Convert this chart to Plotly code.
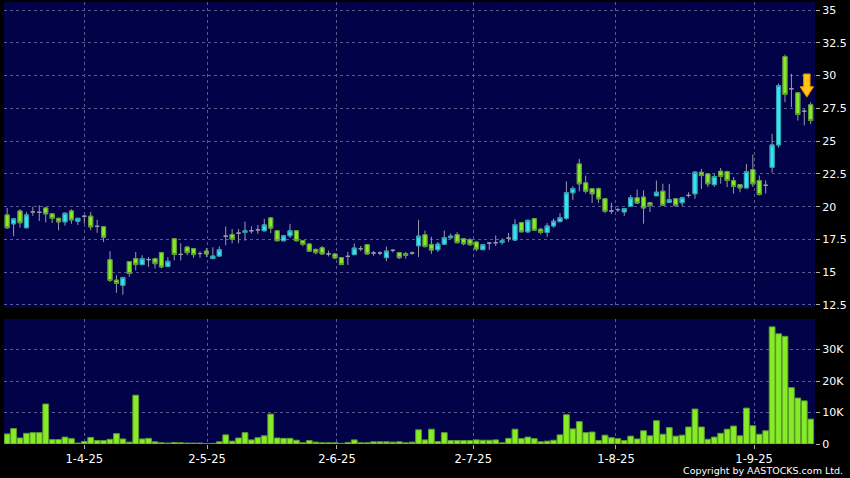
import plotly.graph_objects as go

# ---- data ----
opens = [19.37, 18.69, 19.67, 18.39, 19.6, 19.57, 19.9, 19.45, 19.11, 18.84,
         19.67, 18.89, 19.27, 19.27, 18.5, 18.46, 15.96, 14.39, 14.0, 15.81,
         16.04, 15.58, 15.96, 16.04, 16.49, 15.43, 17.55, 16.36, 16.92, 16.8,
         16.42, 16.61, 16.04, 16.23, 17.75, 17.88, 17.98, 18.03, 18.16, 18.23,
         18.16, 19.14, 18.16, 17.4, 17.78, 18.16, 17.42, 17.15, 16.74, 16.87,
         16.39, 16.39, 16.11, 16.21, 16.34, 16.79, 17.1, 16.46, 16.46, 16.11,
         16.67, 16.49, 16.42, 16.46, 17.02, 17.86, 17.12, 16.72, 17.14, 17.63,
         17.86, 17.55, 17.48, 17.3, 16.72, 17.22, 17.25, 17.27, 17.6, 17.45,
         18.79, 18.08, 19.09, 18.28, 18.03, 18.53, 18.86, 19.11, 21.06, 23.26,
         21.82, 21.36, 21.36, 20.6, 19.67, 19.77, 19.6, 20.02, 20.68, 20.73,
         20.3, 20.83, 21.18, 20.33, 20.6, 20.3, 20.86, 20.98, 22.62, 22.5,
         21.68, 22.7, 22.68, 21.99, 21.68, 21.43, 22.83, 21.99, 21.63, 23.0,
         24.71, 31.45, 28.99, 28.68, 27.28, 27.77]
highs = [19.9, 19.1, 19.8, 19.6, 20.0, 20.1, 19.95, 19.5, 19.15, 19.55,
         19.8, 19.15, 19.35, 19.6, 19.0, 18.5, 16.6, 14.77, 14.65, 15.85,
         16.54, 16.3, 16.16, 16.1, 16.55, 16.15, 17.6, 17.2, 16.95, 16.85,
         16.6, 16.84, 16.9, 16.97, 18.48, 18.3, 18.3, 18.86, 18.5, 18.6,
         19.07, 19.2, 18.2, 17.85, 18.69, 18.2, 17.45, 17.2, 16.8, 17.0,
         16.65, 16.42, 16.15, 16.55, 17.2, 17.0, 17.15, 16.62, 16.6, 16.95,
         16.75, 16.55, 16.55, 16.58, 19.0, 18.18, 17.7, 17.3, 18.18, 17.95,
         18.05, 17.6, 17.6, 17.35, 17.15, 17.3, 17.8, 17.6, 18.0, 19.04,
         18.85, 19.0, 19.15, 18.38, 18.75, 19.09, 19.5, 21.92, 21.55, 23.64,
         22.37, 21.4, 21.45, 20.65, 20.3, 19.9, 19.9, 20.9, 21.3, 21.25,
         20.35, 21.99, 21.74, 21.74, 20.65, 20.75, 21.1, 22.7, 22.88, 22.55,
         22.5, 22.95, 22.75, 22.25, 21.7, 23.26, 23.97, 22.37, 22.0, 25.55,
         29.4, 31.6, 30.13, 28.75, 27.45, 27.97]
lows = [18.3, 17.75, 18.4, 18.35, 19.3, 18.9, 18.8, 18.75, 18.2, 18.55,
        18.7, 18.6, 18.7, 18.2, 18.0, 17.3, 14.25, 13.43, 13.28, 14.65,
        15.15, 15.55, 15.4, 15.28, 15.3, 15.4, 15.9, 15.9, 16.3, 16.1,
        16.1, 16.16, 16.0, 16.2, 17.05, 17.2, 17.2, 17.4, 17.95, 17.93,
        18.1, 17.98, 17.35, 17.35, 17.6, 17.35, 16.97, 16.55, 16.35, 16.35,
        16.2, 16.0, 15.55, 15.55, 16.3, 16.6, 16.35, 16.25, 16.3, 15.84,
        16.5, 16.0, 16.04, 16.33, 16.16, 16.9, 16.4, 16.55, 17.1, 17.55,
        17.2, 17.05, 17.0, 16.6, 16.7, 16.7, 17.0, 17.1, 17.3, 17.4,
        18.05, 18.0, 18.15, 17.88, 17.7, 18.4, 18.8, 19.0, 20.5, 21.16,
        21.0, 20.27, 20.27, 19.5, 19.45, 19.6, 19.3, 20.0, 20.2, 18.7,
        19.6, 20.8, 20.05, 20.3, 20.0, 20.05, 20.7, 20.6, 21.35, 21.5,
        21.5, 21.75, 21.5, 21.0, 21.1, 21.4, 21.5, 20.85, 21.0, 22.6,
        24.5, 27.97, 27.58, 26.57, 26.19, 26.3]
closes = [18.39, 19.07, 18.77, 19.37, 19.6, 19.57, 19.45, 19.1, 18.84, 19.5,
          18.99, 19.11, 19.27, 18.46, 18.5, 17.67, 14.37, 14.14, 14.6, 14.9,
          15.58, 16.04, 15.96, 15.65, 15.4, 15.83, 16.36, 16.36, 16.49, 16.34,
          16.42, 16.39, 16.23, 16.72, 17.75, 17.52, 17.98, 18.16, 18.16, 18.23,
          18.61, 18.36, 17.4, 17.78, 18.16, 17.4, 17.12, 16.6, 16.49, 16.39,
          16.39, 16.08, 15.58, 16.21, 16.84, 16.79, 16.39, 16.46, 16.46, 16.61,
          16.67, 16.11, 16.29, 16.46, 17.75, 16.95, 16.69, 17.14, 17.63, 17.75,
          17.25, 17.17, 17.1, 16.77, 17.1, 17.22, 17.25, 17.4, 17.6, 18.64,
          18.08, 18.96, 18.2, 18.03, 18.53, 18.89, 19.17, 21.06, 21.39, 21.74,
          21.18, 20.98, 20.6, 19.64, 19.67, 19.77, 19.85, 20.68, 20.27, 19.9,
          20.08, 21.1, 20.1, 20.53, 20.08, 20.68, 20.86, 22.63, 22.37, 21.74,
          22.3, 22.3, 21.99, 21.55, 21.43, 22.68, 21.74, 20.92, 21.63, 24.71,
          29.24, 28.55, 28.99, 27.03, 27.28, 26.57]
volumes_k = [3.2, 4.9, 1.9, 3.4, 3.6, 3.6, 12.7, 1.4, 1.4, 2.2,
             1.7, 0.3, 0.8, 2.1, 1.1, 1.1, 1.5, 3.3, 1.6, 0.6,
             15.5, 1.6, 1.8, 0.7, 0.4, 0.3, 0.5, 0.4, 0.3, 0.3,
             0.3, 0.1, 0.2, 0.7, 2.9, 0.9, 1.9, 3.6, 1.3, 2.0,
             2.6, 9.5, 1.9, 1.8, 1.8, 1.2, 0.4, 1.1, 0.6, 0.4,
             0.4, 0.4, 0.2, 0.5, 1.3, 0.4, 0.4, 0.7, 0.7, 0.7,
             0.6, 0.7, 0.4, 0.6, 4.5, 1.3, 4.7, 0.8, 3.6, 1.1,
             1.1, 1.1, 1.1, 1.3, 1.2, 1.2, 1.3, 0.4, 1.8, 4.7,
             1.7, 2.2, 1.7, 0.7, 0.9, 1.2, 2.9, 9.3, 4.8, 7.1,
             3.6, 3.8, 1.1, 2.8, 2.0, 1.7, 1.1, 2.5, 1.6, 4.2,
             2.6, 7.4, 3.1, 5.2, 2.5, 2.8, 5.4, 11.1, 5.4, 1.5,
             2.2, 3.4, 4.7, 5.7, 2.6, 11.4, 5.8, 3.1, 4.2, 37.2,
             35.0, 34.2, 17.9, 14.6, 13.7, 7.9]
date_tick_pos = [12, 31.1, 51.3, 72.5, 94.7, 116.2]
date_tick_labels = ["1-4-25", "2-5-25", "2-6-25", "2-7-25", "1-8-25", "1-9-25"]
price_ticks = [12.5, 15, 17.5, 20, 22.5, 25, 27.5, 30, 32.5, 35]
vol_ticks = [0, 10000, 20000, 30000]
vol_tick_labels = ["0", "10K", "20K", "30K"]

# ---- derived ----
n = len(opens)
idx = list(range(n))
volumes = [v * 1000 for v in volumes_k]
body_hi = [max(o, c) if o != c else None for o, c in zip(opens, closes)]
body_lo = [min(o, c) if o != c else None for o, c in zip(opens, closes)]
body_o = [o if o != c else None for o, c in zip(opens, closes)]
body_c = [c if o != c else None for o, c in zip(opens, closes)]

BG = "#020248"
GRID = "#5a5a90"
WICK = "#9a9aa8"
GREEN = "#86ec26"
GREEN_EDGE = "#5b9a2c"
CYAN = "#33e4f2"
CYAN_EDGE = "#2aa0b0"
FONT = "DejaVu Sans"

fig = go.Figure()

# wicks (and doji bars)
fig.add_trace(go.Candlestick(
    x=idx, open=opens, high=highs, low=lows, close=closes,
    increasing=dict(line=dict(color=WICK, width=1), fillcolor="rgba(0,0,0,0)"),
    decreasing=dict(line=dict(color=WICK, width=1), fillcolor="rgba(0,0,0,0)"),
    whiskerwidth=0, xaxis="x", yaxis="y", showlegend=False, hoverinfo="skip"))

# bodies
fig.add_trace(go.Candlestick(
    x=idx, open=body_o, high=body_hi, low=body_lo, close=body_c,
    increasing=dict(line=dict(color=CYAN_EDGE, width=1), fillcolor=CYAN),
    decreasing=dict(line=dict(color=GREEN_EDGE, width=1), fillcolor=GREEN),
    whiskerwidth=0, xaxis="x", yaxis="y", showlegend=False, hoverinfo="skip"))

# volume
fig.add_trace(go.Bar(
    x=idx, y=volumes, xaxis="x2", yaxis="y2",
    marker=dict(color=GREEN, line=dict(color=GREEN_EDGE, width=1)),
    showlegend=False, hoverinfo="skip"))

xr = [-0.49, 125.67]
common_x = dict(range=xr, tickvals=date_tick_pos, showgrid=True, gridcolor=GRID,
                griddash="3px,3px", gridwidth=1, zeroline=False, showline=False,
                fixedrange=True)
fig.update_layout(
    width=850, height=478,
    margin=dict(l=4, r=35, t=2, b=34),
    paper_bgcolor="#000000", plot_bgcolor=BG,
    font=dict(family=FONT, color="#ffffff", size=11),
    boxgap=0.1, bargap=0.1, hovermode=False,
    xaxis=dict(common_x, anchor="y", showticklabels=False, ticks="",
               rangeslider=dict(visible=False)),
    xaxis2=dict(common_x, anchor="y2", matches="x", ticktext=date_tick_labels,
                ticks="outside", ticklen=4, tickcolor="#b0b0b0",
                tickfont=dict(family=FONT, size=11.5, color="#ffffff")),
    yaxis=dict(domain=[0.3077, 1.0], range=[12.27, 35.61], side="right",
               tickvals=price_ticks, ticktext=[f"{t:g}" for t in price_ticks],
               ticks="outside", ticklen=4, tickcolor="#b0b0b0", fixedrange=True,
               showgrid=True, gridcolor=GRID, griddash="3px,3px", zeroline=False,
               tickfont=dict(family=FONT, size=11, color="#ffffff")),
    yaxis2=dict(domain=[0.0, 0.2828], range=[0, 39700], side="right",
                tickvals=vol_ticks, ticktext=vol_tick_labels, fixedrange=True,
                ticks="outside", ticklen=4, tickcolor="#b0b0b0",
                showgrid=True, gridcolor=GRID, griddash="3px,3px", zeroline=False,
                tickfont=dict(family=FONT, size=11, color="#ffffff")),
    annotations=[dict(text="Copyright by AASTOCKS.com Ltd.", xref="paper", yref="paper",
                      x=1.037, y=-0.061, xanchor="right", yanchor="middle",
                      showarrow=False, font=dict(family=FONT, size=9.5, color="#ffffff"))],
    shapes=[dict(type="path", xref="x", yref="y",
                 path="M123.9,30.12 L124.9,30.12 L124.9,29.15 L125.45,29.15 "
                      "L124.4,28.36 L123.35,29.15 L123.9,29.15 Z",
                 fillcolor="#ffc414", line=dict(color="#e08a00", width=1))],
)

fig.write_html("out.html", config={"displayModeBar": False, "staticPlot": True},
               post_script=(
                   "document.body.style.margin='0px';"
                   "document.body.style.padding='0px';"
                   "document.body.style.overflow='hidden';"
                   "document.body.style.background='#000000';"))
